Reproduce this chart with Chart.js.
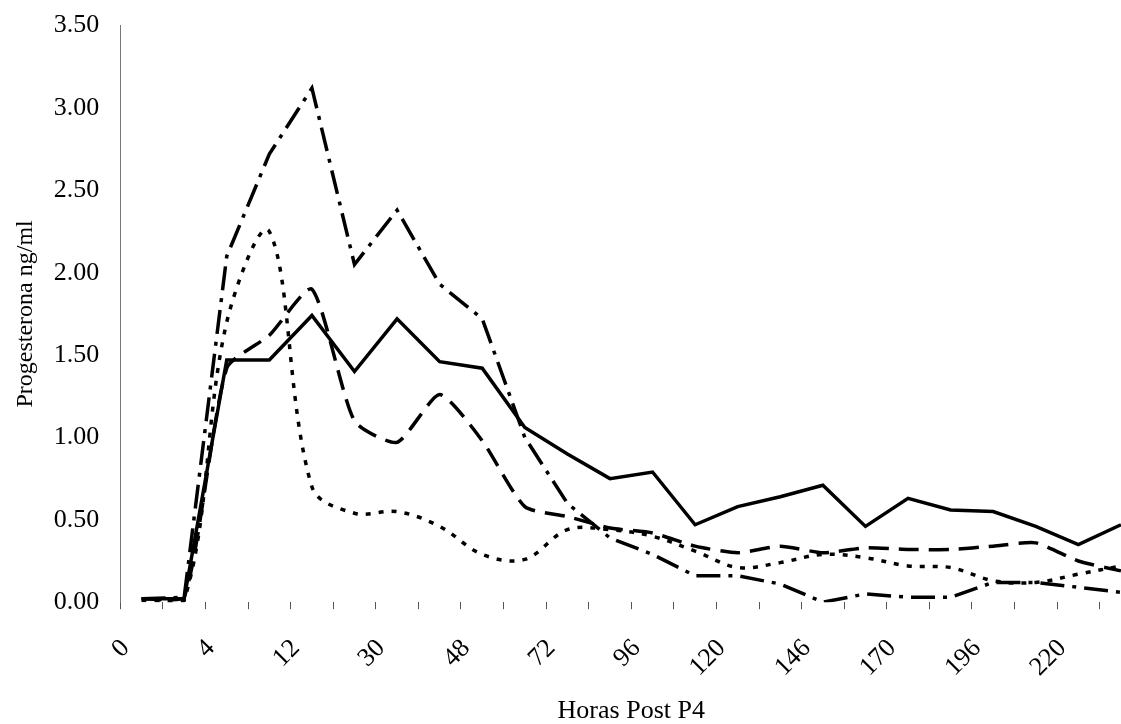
<!DOCTYPE html>
<html lang="es">
<head>
    <meta charset="UTF-8">
    <title>Progesterona post P4</title>
    <script src="https://cdn.jsdelivr.net/npm/chart.js"></script>
    <style>
        html, body { margin: 0; padding: 0; background: #fff; overflow: hidden; }
        /* el grafico original esta recortado por la derecha */
        .wrap { width: 1167px; height: 727px; position: relative; }
    </style>
</head>
<body>
    <div class="wrap">
        <canvas id="progChart"></canvas>
    </div>

    <script>
        // horas post P4 (solo se rotula una de cada dos)
        const horas = [0, 2, 4, 8, 12, 24, 30, 36, 48, 60, 72, 84, 96, 108, 120, 132, 146, 158, 170, 184, 196, 208, 220, 232];

        const serieContinua = [0.02, 0.02, 1.47, 1.47, 1.74, 1.40, 1.72, 1.46, 1.42, 1.06, 0.90, 0.75, 0.79, 0.47, 0.58, 0.64, 0.71, 0.46, 0.63, 0.56, 0.55, 0.46, 0.35, 0.47];
        const serieGuiones = [0.02, 0.03, 1.42, 1.62, 1.90, 1.10, 0.97, 1.26, 0.98, 0.58, 0.52, 0.45, 0.42, 0.34, 0.30, 0.34, 0.30, 0.33, 0.32, 0.32, 0.34, 0.36, 0.25, 0.19];
        const serieGuionPunto = [0.02, 0.03, 2.10, 2.72, 3.12, 2.05, 2.38, 1.93, 1.72, 1.00, 0.60, 0.39, 0.29, 0.16, 0.16, 0.11, 0.00, 0.05, 0.03, 0.03, 0.12, 0.12, 0.09, 0.06];
        const seriePuntos = [0.01, 0.01, 1.70, 2.25, 0.70, 0.54, 0.55, 0.46, 0.29, 0.26, 0.44, 0.44, 0.40, 0.31, 0.21, 0.24, 0.29, 0.27, 0.22, 0.21, 0.13, 0.12, 0.17, 0.22];

        const fuente = "'Liberation Serif', 'Times New Roman', serif";

        function linea(data, dash, tension) {
            return {
                data: data,
                borderColor: '#000',
                borderWidth: 3.5,
                borderDash: dash,
                borderCapStyle: 'butt',
                pointRadius: 0,
                tension: tension,
                fill: false
            };
        }

        const ctx = document.getElementById('progChart').getContext('2d');
        new Chart(ctx, {
            type: 'line',
            data: {
                labels: horas,
                datasets: [
                    linea(serieContinua, [], 0),
                    linea(serieGuiones, [20, 10], 0.2),
                    linea(serieGuionPunto, [24, 8, 4, 8], 0),
                    linea(seriePuntos, [5, 8], 0.35)
                ]
            },
            options: {
                responsive: true,
                maintainAspectRatio: false,
                animation: false,
                layout: { padding: { top: 0, left: 10, right: 0, bottom: 0 } },
                plugins: {
                    legend: { display: false },
                    tooltip: { enabled: false }
                },
                scales: {
                    x: {
                        offset: true,
                        grid: {
                            offset: true,
                            drawOnChartArea: false,
                            drawTicks: true,
                            tickLength: 7,
                            color: '#555',
                            lineWidth: 1
                        },
                        border: { display: false },
                        ticks: {
                            autoSkip: false,
                            minRotation: 45,
                            maxRotation: 45,
                            padding: 24,
                            labelOffset: -16,
                            color: '#000',
                            font: { family: fuente, size: 26 },
                            callback: function (v, i) { return i % 2 === 0 ? String(horas[i]) : ''; }
                        },
                        title: {
                            display: true,
                            text: 'Horas Post P4',
                            color: '#000',
                            font: { family: fuente, size: 26 },
                            padding: { top: -11, bottom: 0 }
                        }
                    },
                    y: {
                        min: 0,
                        max: 3.5,
                        grid: {
                            drawOnChartArea: false,
                            drawTicks: true,
                            tickLength: 11,
                            color: 'rgba(0,0,0,0)'
                        },
                        border: { display: true, color: '#777', width: 1, dash: [8, 2, 1, 2] },
                        ticks: {
                            stepSize: 0.5,
                            padding: 10,
                            color: '#000',
                            font: { family: fuente, size: 26 },
                            callback: function (v) { return v.toFixed(2); }
                        },
                        title: {
                            display: true,
                            text: 'Progesterona ng/ml',
                            color: '#000',
                            font: { family: fuente, size: 24 },
                            padding: { top: 1, bottom: 4 }
                        }
                    }
                }
            }
        });
    </script>
</body>
</html>
